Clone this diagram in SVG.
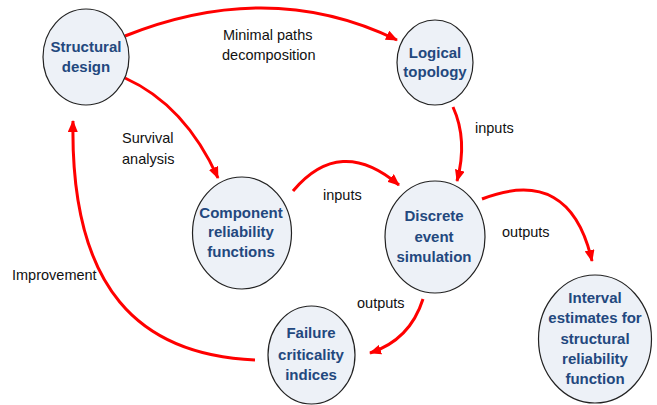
<svg xmlns="http://www.w3.org/2000/svg" width="657" height="405" viewBox="0 0 657 405">
<style>
.node{fill:#EDF1F7;stroke:#222;stroke-width:1.2}
.nt{font-family:"Liberation Sans",Arial,sans-serif;font-weight:bold;font-size:15px;fill:#23487E;text-anchor:middle}
.lb{font-family:"Liberation Sans",Arial,sans-serif;font-size:14.5px;fill:#111}
.ar{fill:none;stroke:#FF0000;stroke-width:3;marker-end:url(#ah)}
</style>
<defs>
<marker id="ah" viewBox="0 0 12 10" refX="11" refY="5" markerWidth="12" markerHeight="10" markerUnits="userSpaceOnUse" orient="auto">
<path d="M0,0 L12,5 L0,10 Z" fill="#FF0000"/>
</marker>
</defs>
<rect width="657" height="405" fill="#fff"/>
<g id="connectors">
<path class="ar" d="M125,36 Q270,-22 397,40"/>
<path class="ar" d="M125,78 Q185,105 218,178"/>
<path class="ar" d="M453,107 Q468,140 457,181"/>
<path class="ar" d="M293,191 Q340,135 399,185"/>
<path class="ar" d="M482,199 Q570,165 592,261"/>
<path class="ar" d="M423,299 Q410,340 370,353"/>
<path class="ar" d="M255,360 C140,355 70,290 73,121"/>
</g>
<g id="labels">
<text class="lb" x="223" y="40">Minimal paths</text>
<text class="lb" x="222" y="60">decomposition</text>
<text class="lb" x="122" y="143">Survival</text>
<text class="lb" x="122" y="164">analysis</text>
<text class="lb" x="475" y="133">inputs</text>
<text class="lb" x="323" y="200">inputs</text>
<text class="lb" x="502" y="237">outputs</text>
<text class="lb" x="357" y="308">outputs</text>
<text class="lb" x="12" y="280">Improvement</text>
</g>
<g id="structural-design">
<ellipse class="node" cx="86" cy="57" rx="43" ry="48"/>
<text class="nt" x="86" y="52">Structural</text>
<text class="nt" x="86" y="72">design</text>
</g>
<g id="logical-topology">
<ellipse class="node" cx="435" cy="62.5" rx="38" ry="42.5"/>
<text class="nt" x="435" y="58">Logical</text>
<text class="nt" x="435" y="77">topology</text>
</g>
<g id="component-reliability">
<ellipse class="node" cx="242" cy="233" rx="49.5" ry="56"/>
<text class="nt" x="241" y="218">Component</text>
<text class="nt" x="241" y="237">reliability</text>
<text class="nt" x="241" y="257">functions</text>
</g>
<g id="discrete-event">
<ellipse class="node" cx="435" cy="237" rx="50" ry="56"/>
<text class="nt" x="434" y="221">Discrete</text>
<text class="nt" x="434" y="242">event</text>
<text class="nt" x="434" y="262">simulation</text>
</g>
<g id="failure-criticality">
<ellipse class="node" cx="311.5" cy="355" rx="43.5" ry="49"/>
<text class="nt" x="311" y="338">Failure</text>
<text class="nt" x="311" y="360">criticality</text>
<text class="nt" x="311" y="380">indices</text>
</g>
<g id="interval-estimates">
<ellipse class="node" cx="595" cy="339" rx="56.5" ry="64"/>
<text class="nt" x="595" y="303">Interval</text>
<text class="nt" x="595" y="323">estimates for</text>
<text class="nt" x="595" y="344">structural</text>
<text class="nt" x="595" y="364">reliability</text>
<text class="nt" x="595" y="384">function</text>
</g>
</svg>
